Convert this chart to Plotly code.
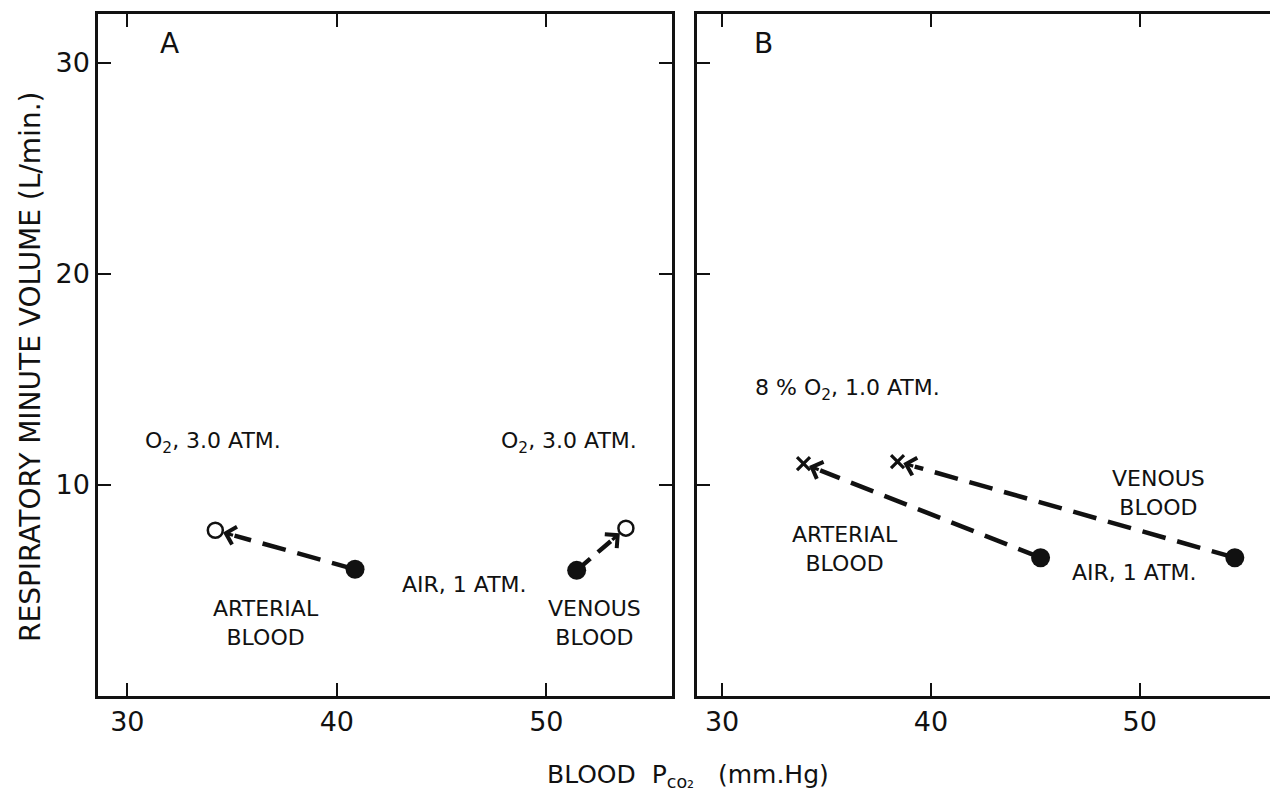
import math
import plotly.graph_objects as go

# ---- data ----
# Panel A: air, 1 atm (filled) -> O2, 3.0 atm (open)
a_art_air = (40.87, 6.0)
a_art_o2 = (34.2, 7.85)
a_ven_air = (51.45, 5.95)
a_ven_o2 = (53.8, 7.95)
# Panel B: air, 1 atm (filled) -> 8% O2, 1.0 atm (x)
b_art_air = (45.25, 6.55)
b_art_lo = (33.9, 11.0)
b_ven_air = (54.55, 6.55)
b_ven_lo = (38.4, 11.1)

x_ticks = [30, 40, 50]
y_ticks = [10, 20, 30]
x_range = [28.6, 56.0]
x_range_b = [28.8, 57.0]
y_range = [0, 32.3]

FONT = "DejaVu Sans"
BLACK = "#111111"
PX_PER_UNIT = 21.0  # approximate screen scale, used only to size the arrowheads

fig = go.Figure()


def arrow(fig, start, end, xa, ya, dash, standoff):
    dx, dy = end[0] - start[0], end[1] - start[1]
    length_px = math.hypot(dx, dy) * PX_PER_UNIT
    t = max(0.0, 1 - (standoff + 12) / length_px)
    tail = (start[0] + dx * t, start[1] + dy * t)
    fig.add_trace(go.Scatter(x=[start[0], tail[0]], y=[start[1], tail[1]], mode="lines",
                             line=dict(color=BLACK, width=4.5, dash=dash),
                             xaxis=xa, yaxis=ya, showlegend=False, hoverinfo="skip"))
    fig.add_annotation(x=end[0], y=end[1], ax=tail[0], ay=tail[1],
                       xref=xa, yref=ya, axref=xa, ayref=ya,
                       showarrow=True, arrowhead=4, arrowsize=1.1, arrowwidth=3.2,
                       arrowcolor=BLACK, standoff=standoff, text="")


arrow(fig, a_art_air, a_art_o2, "x", "y", "24px,12px", 8)
arrow(fig, a_ven_air, a_ven_o2, "x", "y", "18px,10px", 8)
arrow(fig, b_art_air, b_art_lo, "x2", "y2", "24px,12px", 6)
arrow(fig, b_ven_air, b_ven_lo, "x2", "y2", "24px,12px", 6)

# markers
fig.add_trace(go.Scatter(x=[a_art_air[0], a_ven_air[0]], y=[a_art_air[1], a_ven_air[1]],
                         mode="markers", marker=dict(color=BLACK, size=19),
                         xaxis="x", yaxis="y", showlegend=False))
fig.add_trace(go.Scatter(x=[a_art_o2[0], a_ven_o2[0]], y=[a_art_o2[1], a_ven_o2[1]],
                         mode="markers",
                         marker=dict(color="white", size=15, line=dict(color=BLACK, width=2.5)),
                         xaxis="x", yaxis="y", showlegend=False))
fig.add_trace(go.Scatter(x=[b_art_air[0], b_ven_air[0]], y=[b_art_air[1], b_ven_air[1]],
                         mode="markers", marker=dict(color=BLACK, size=19),
                         xaxis="x2", yaxis="y2", showlegend=False))
fig.add_trace(go.Scatter(x=[b_art_lo[0], b_ven_lo[0]], y=[b_art_lo[1], b_ven_lo[1]],
                         mode="markers",
                         marker=dict(symbol="x-thin", size=13, line=dict(color=BLACK, width=3.2)),
                         xaxis="x2", yaxis="y2", showlegend=False))

# text labels
labels_a = [
    ("A", 32.0, 30.9, 28),
    ("O<sub>2</sub>, 3.0 ATM.", 34.1, 12.0, 22),
    ("O<sub>2</sub>, 3.0 ATM.", 51.1, 12.0, 22),
    ("AIR, 1 ATM.", 46.1, 5.3, 22),
    ("ARTERIAL<br>BLOOD", 36.6, 3.45, 22),
    ("VENOUS<br>BLOOD", 52.3, 3.45, 22),
]
labels_b = [
    ("B", 32.0, 30.9, 28),
    ("8 % O<sub>2</sub>, 1.0 ATM.", 36.0, 14.5, 22),
    ("VENOUS<br>BLOOD", 50.9, 9.6, 22),
    ("ARTERIAL<br>BLOOD", 35.9, 6.95, 22),
    ("AIR, 1 ATM.", 49.75, 5.85, 22),
]
for txt, x, y, s in labels_a:
    fig.add_annotation(x=x, y=y, xref="x", yref="y", text=txt, showarrow=False,
                       font=dict(family=FONT, size=s, color=BLACK))
for txt, x, y, s in labels_b:
    fig.add_annotation(x=x, y=y, xref="x2", yref="y2", text=txt, showarrow=False,
                       font=dict(family=FONT, size=s, color=BLACK))

OFF = 8  # page offset of the figure inside the browser window
W, H = 1278, 791

# axis titles
fig.add_annotation(x=(30 - OFF) / W, y=1 - (367 - OFF) / H, xref="paper", yref="paper",
                   xanchor="center", yanchor="middle", textangle=-90,
                   text="RESPIRATORY MINUTE VOLUME (L/min.)", showarrow=False,
                   font=dict(family=FONT, size=28, color=BLACK))
fig.add_annotation(x=(688 - OFF) / W, y=1 - (776 - OFF) / H, xref="paper", yref="paper",
                   xanchor="center", yanchor="middle",
                   text="BLOOD  P<sub>co₂</sub>   (mm.Hg)", showarrow=False,
                   font=dict(family=FONT, size=25, color=BLACK))

ax_common = dict(showgrid=False, zeroline=False, showline=True, linecolor=BLACK, linewidth=2.5,
                 mirror="ticks", ticks="inside", ticklen=13, tickwidth=2, tickcolor=BLACK,
                 tickfont=dict(family=FONT, size=27, color=BLACK), automargin=False)

ydom = [1 - (696 - OFF) / H, 1 - (14 - OFF) / H]
fig.update_layout(
    width=W, height=H,
    margin=dict(l=0, r=0, t=0, b=0),
    paper_bgcolor="white", plot_bgcolor="white",
    xaxis=dict(domain=[(98 - OFF) / W, (672 - OFF) / W], range=x_range, tickvals=x_ticks,
               anchor="y", **ax_common),
    yaxis=dict(domain=ydom, range=y_range, tickvals=y_ticks, anchor="x", **ax_common),
    xaxis2=dict(domain=[(697 - OFF) / W, 1.0], range=x_range_b, tickvals=x_ticks,
                anchor="y2", **ax_common),
    yaxis2=dict(domain=ydom, range=y_range, tickvals=y_ticks, anchor="x2", showticklabels=False,
                **ax_common),
    showlegend=False,
)

fig.write_html("out.html")
